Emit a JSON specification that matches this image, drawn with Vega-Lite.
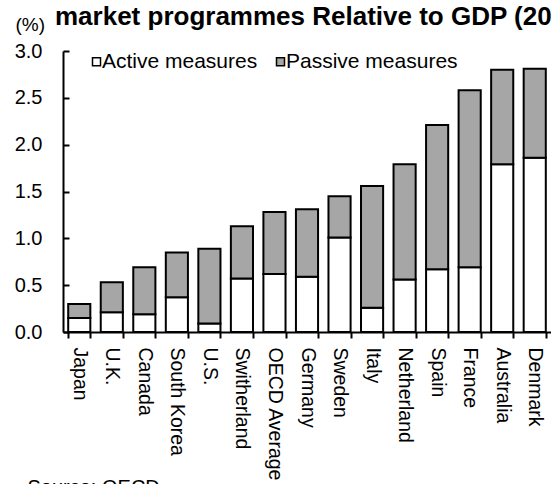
{
  "$schema": "https://vega.github.io/schema/vega-lite/v6.json",
  "width": 488,
  "height": 281,
  "autosize": "none",
  "padding": {"left": 63, "top": 51, "right": 0, "bottom": 152},
  "background": "white",
  "title": {
    "text": "market programmes Relative to GDP (20",
    "anchor": "start",
    "frame": "group",
    "dx": -8,
    "offset": 0,
    "dy": 15,
    "font": "Liberation Sans",
    "fontSize": 26,
    "fontWeight": "bold",
    "color": "black"
  },
  "data": {
    "values": [
      {"country": "Japan", "measure": "Active measures", "value": 0.15},
      {"country": "Japan", "measure": "Passive measures", "value": 0.15},
      {"country": "U.K.", "measure": "Active measures", "value": 0.21},
      {"country": "U.K.", "measure": "Passive measures", "value": 0.32},
      {"country": "Canada", "measure": "Active measures", "value": 0.19},
      {"country": "Canada", "measure": "Passive measures", "value": 0.5},
      {"country": "South Korea", "measure": "Active measures", "value": 0.37},
      {"country": "South Korea", "measure": "Passive measures", "value": 0.48},
      {"country": "U.S.", "measure": "Active measures", "value": 0.09},
      {"country": "U.S.", "measure": "Passive measures", "value": 0.8},
      {"country": "Switherland", "measure": "Active measures", "value": 0.57},
      {"country": "Switherland", "measure": "Passive measures", "value": 0.56},
      {"country": "OECD Average", "measure": "Active measures", "value": 0.62},
      {"country": "OECD Average", "measure": "Passive measures", "value": 0.66},
      {"country": "Germany", "measure": "Active measures", "value": 0.59},
      {"country": "Germany", "measure": "Passive measures", "value": 0.72},
      {"country": "Sweden", "measure": "Active measures", "value": 1.01},
      {"country": "Sweden", "measure": "Passive measures", "value": 0.44},
      {"country": "Italy", "measure": "Active measures", "value": 0.26},
      {"country": "Italy", "measure": "Passive measures", "value": 1.3},
      {"country": "Netherland", "measure": "Active measures", "value": 0.56},
      {"country": "Netherland", "measure": "Passive measures", "value": 1.23},
      {"country": "Spain", "measure": "Active measures", "value": 0.67},
      {"country": "Spain", "measure": "Passive measures", "value": 1.54},
      {"country": "France", "measure": "Active measures", "value": 0.69},
      {"country": "France", "measure": "Passive measures", "value": 1.89},
      {"country": "Australia", "measure": "Active measures", "value": 1.79},
      {"country": "Australia", "measure": "Passive measures", "value": 1.01},
      {"country": "Denmark", "measure": "Active measures", "value": 1.86},
      {"country": "Denmark", "measure": "Passive measures", "value": 0.95}
    ]
  },
  "mark": {"type": "bar", "stroke": "black", "strokeWidth": 2},
  "encoding": {
    "x": {
      "field": "country",
      "type": "nominal",
      "sort": null,
      "scale": {"paddingInner": 0.32, "paddingOuter": 0.16},
      "axis": {
        "title": "Source: OECD",
        "titleX": -36,
        "titleY": 161,
        "titleAlign": "left",
        "titleBaseline": "alphabetic",
        "titleFontWeight": "normal",
        "titleFontSize": 20,
        "titleColor": "black",
        "labelAngle": 90,
        "labelAlign": "left",
        "labelBaseline": "middle",
        "labelFontSize": 19.5,
        "labelPadding": 9,
        "labelColor": "black",
        "tickBand": "extent",
        "tickSize": 6,
        "tickWidth": 2,
        "tickColor": "black",
        "domainColor": "black",
        "domainWidth": 2,
        "grid": false
      }
    },
    "y": {
      "field": "value",
      "type": "quantitative",
      "stack": "zero",
      "scale": {"domain": [0, 3]},
      "axis": {
        "title": "(%)",
        "titleAngle": 0,
        "titleX": -48,
        "titleY": -21,
        "titleAlign": "left",
        "titleBaseline": "alphabetic",
        "titleFontWeight": "normal",
        "titleFontSize": 19,
        "titleColor": "black",
        "values": [0, 0.5, 1, 1.5, 2, 2.5, 3],
        "format": ".1f",
        "tickSize": -6,
        "tickWidth": 2,
        "tickColor": "black",
        "labelPadding": 27,
        "labelFontSize": 20,
        "labelColor": "black",
        "domainColor": "black",
        "domainWidth": 2,
        "grid": false
      }
    },
    "color": {
      "field": "measure",
      "type": "nominal",
      "scale": {"domain": ["Active measures", "Passive measures"], "range": ["white", "#a6a6a6"]},
      "legend": {
        "title": null,
        "orient": "none",
        "legendX": 23,
        "legendY": 0,
        "direction": "horizontal",
        "symbolType": "square",
        "symbolSize": 64,
        "symbolStrokeColor": "black",
        "symbolStrokeWidth": 1.5,
        "labelFontSize": 21,
        "labelOffset": -5,
        "labelLimit": 400,
        "labelColor": "black",
        "columnPadding": 12,
        "padding": 0
      }
    },
    "order": {"field": "measure", "sort": "ascending"}
  },
  "config": {"view": {"stroke": null}, "font": "Liberation Sans"}
}
